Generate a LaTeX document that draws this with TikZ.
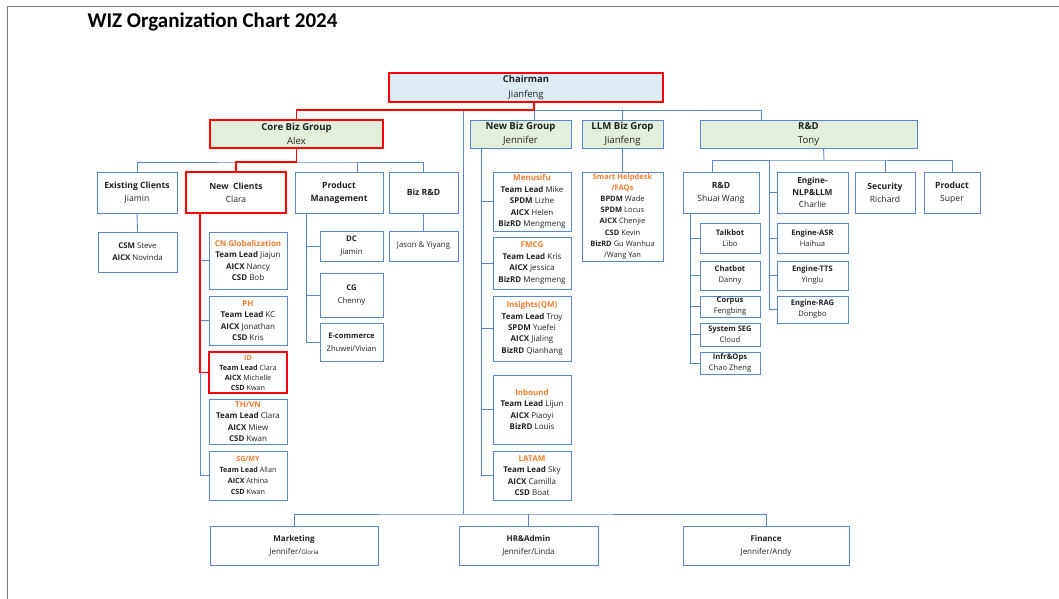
\documentclass[tikz,border=0pt]{standalone}
\usepackage{fontspec}
\setmainfont{Carlito}
\newfontfamily\boxfont{Open Sans}
\usepackage{tikz}
\definecolor{WizBlue}{HTML}{5B85D5}
\definecolor{WizRed}{HTML}{FF0000}
\definecolor{WizGreen}{HTML}{E2EFDA}
\definecolor{WizSky}{HTML}{DDEBF7}
\definecolor{WizOrange}{HTML}{ED7D31}
\definecolor{WizInk}{HTML}{222222}
\definecolor{WizFrame}{HTML}{777777}
\newcommand{\unithead}[1]{\textcolor{WizOrange}{\textbf{#1}}}

\begin{document}
\begin{tikzpicture}[
  x=1pt,y=-1pt,
  unit/.style={draw=WizBlue,line width=0.8pt,fill=white,align=center,inner sep=1pt,text=WizInk,font=\boxfont\fontsize{8.6}{13}\selectfont},
  group/.style={unit,fill=WizGreen,font=\boxfont\fontsize{9.6}{14}\selectfont},
  team/.style={unit,font=\boxfont\fontsize{8}{11.4}\selectfont},
  rdsub/.style={unit,font=\boxfont\fontsize{7.6}{11}\selectfont},
  hot/.style={draw=WizRed,line width=1.8pt},
  boxsz/.style 2 args={minimum width=#1pt,minimum height=#2pt},
  link/.style={draw=WizBlue,line width=0.9pt},
  hotlink/.style={draw=WizRed,line width=1.8pt}
]
\useasboundingbox (0,0) rectangle (1059,599);
\draw[WizFrame,line width=0.8pt] (7,599) -- (7,6) -- (1059,6);
\node[anchor=west,font=\fontsize{21}{23}\selectfont\bfseries] (title) at (84,22) {WIZ Organization Chart 2024};

% top levels
\node[unit,fill=WizSky,hot,boxsz={274}{29},font=\boxfont\fontsize{9.4}{15}\selectfont] (chair) at (526,87.5) {\textbf{Chairman}\\Jianfeng};
\node[group,hot,boxsz={173}{28}] (core) at (296.5,134) {\textbf{Core Biz Group}\\Alex};
\node[group,boxsz={101}{28}] (newbiz) at (520.5,134) {\textbf{New Biz Group}\\Jennifer};
\node[group,boxsz={81}{28}] (llm) at (622.5,134) {\textbf{LLM Biz Grop}\\Jianfeng};
\node[group,boxsz={217}{28}] (rd) at (808.5,134) {\textbf{R\&D}\\Tony};

% second row
\node[unit,boxsz={80}{41}] (exist) at (137,192.5) {\textbf{Existing Clients}\\Jiamin};
\node[unit,hot,boxsz={100}{41}] (newcl) at (236,192.5) {\textbf{New\ \ Clients}\\Clara};
\node[unit,boxsz={88}{41}] (prodm) at (339,192.5) {\textbf{Product}\\\textbf{Management}};
\node[unit,boxsz={69}{41}] (bizrd) at (423.5,192.5) {\textbf{Biz R\&D}};
\node[unit,boxsz={76}{41}] (rdsw) at (721,192.5) {\textbf{R\&D}\\Shuai Wang};
\node[unit,boxsz={71}{41},font=\boxfont\fontsize{8.3}{12}\selectfont] (nlp) at (812.5,192.5) {\textbf{Engine-}\\\textbf{NLP\&LLM}\\Charlie};
\node[unit,boxsz={60}{41}] (sec) at (885,192.5) {\textbf{Security}\\Richard};
\node[unit,boxsz={56}{41}] (prod) at (952,192.5) {\textbf{Product}\\Super};

% core biz teams
\node[unit,boxsz={79}{40},font=\boxfont\fontsize{7.8}{12}\selectfont] (csm) at (137.5,252) {\textbf{CSM} Steve\\\textbf{AICX} Novinda};
\node[team,boxsz={78}{57}] (cn) at (248,260.5) {\unithead{CN Globalization}\\\textbf{Team Lead} Jiajun\\\textbf{AICX} Nancy\\\textbf{CSD} Bob};
\node[team,boxsz={78}{49}] (ph) at (248,320.5) {\unithead{PH}\\\textbf{Team Lead} KC\\\textbf{AICX} Jonathan\\\textbf{CSD} Kris};
\node[team,hot,boxsz={78}{41},font=\boxfont\fontsize{7.2}{10}\selectfont] (id) at (248,372.5) {\unithead{ID}\\\textbf{Team Lead} Clara\\\textbf{AICX} Michelle\\\textbf{CSD} Kwan};
\node[team,boxsz={78}{45}] (thvn) at (248,421.5) {\unithead{TH/VN}\\\textbf{Team Lead} Clara\\\textbf{AICX} Miew\\\textbf{CSD} Kwan};
\node[team,boxsz={78}{49},font=\boxfont\fontsize{7.2}{11}\selectfont] (sgmy) at (248,475.5) {\unithead{SG/MY}\\\textbf{Team Lead} Allan\\\textbf{AICX} Athina\\\textbf{CSD} Kwan};
\node[unit,boxsz={63}{30},font=\boxfont\fontsize{7.8}{13}\selectfont] (dc) at (351.5,246) {\textbf{DC}\\Jiamin};
\node[unit,boxsz={63}{44},font=\boxfont\fontsize{7.8}{13}\selectfont] (cg) at (351.5,295) {\textbf{CG}\\Chenny};
\node[unit,boxsz={63}{38},font=\boxfont\fontsize{7.6}{13}\selectfont] (ecom) at (351.5,342) {\textbf{E-commerce}\\Zhuwei/Vivian};
\node[unit,boxsz={69}{30},font=\boxfont\fontsize{7.8}{13}\selectfont] (jy) at (423.5,246) {Jason \& Yiyang};

% new biz and llm teams
\node[team,boxsz={78}{59}] (menu) at (532,201.5) {\unithead{Menusifu}\\\textbf{Team Lead} Mike\\\textbf{SPDM} Lizhe\\\textbf{AICX} Helen\\\textbf{BizRD} Mengmeng};
\node[team,boxsz={78}{52}] (fmcg) at (532,263) {\unithead{FMCG}\\\textbf{Team Lead} Kris\\\textbf{AICX} Jessica\\\textbf{BizRD} Mengmeng};
\node[team,boxsz={78}{65}] (insi) at (532,328.5) {\unithead{Insights(QM)}\\\textbf{Team Lead} Troy\\\textbf{SPDM} Yuefei\\\textbf{AICX} Jialing\\\textbf{BizRD} Qianhang};
\node[team,boxsz={78}{69}] (inbd) at (532,409.5) {\unithead{Inbound}\\\textbf{Team Lead} Lijun\\\textbf{AICX} Piaoyi\\\textbf{BizRD} Louis};
\node[team,boxsz={78}{49}] (latam) at (532,475.5) {\unithead{LATAM}\\\textbf{Team Lead} Sky\\\textbf{AICX} Camilla\\\textbf{CSD} Boat};
\node[team,boxsz={81}{89},font=\boxfont\fontsize{7.5}{11.1}\selectfont] (smart) at (622.5,216.5) {\unithead{Smart Helpdesk}\\\unithead{/FAQs}\\\textbf{BPDM} Wade\\\textbf{SPDM} Locus\\\textbf{AICX} Chenjie\\\textbf{CSD} Kevin\\\textbf{BizRD} Gu Wanhua\\/Wang Yan};

% r&d teams
\node[rdsub,boxsz={60}{30}] (talk) at (730,238) {\textbf{Talkbot}\\Libo};
\node[rdsub,boxsz={60}{29}] (chat) at (730,275.5) {\textbf{Chatbot}\\Danny};
\node[rdsub,boxsz={60}{21}] (corp) at (730,306.5) {\textbf{Corpus}\\Fengbing};
\node[rdsub,boxsz={60}{23}] (sseg) at (730,334.5) {\textbf{System SEG}\\Cloud};
\node[rdsub,boxsz={60}{22}] (infr) at (730,363) {\textbf{Infr\&Ops}\\Chao Zheng};
\node[rdsub,boxsz={71}{30}] (asr) at (812.5,238) {\textbf{Engine-ASR}\\Haihua};
\node[rdsub,boxsz={71}{29}] (tts) at (812.5,275.5) {\textbf{Engine-TTS}\\Yinglu};
\node[rdsub,boxsz={71}{27}] (rag) at (812.5,309.5) {\textbf{Engine-RAG}\\Dongbo};

% support functions
\node[unit,boxsz={168}{39},font=\boxfont\fontsize{8}{13}\selectfont] (mkt) at (294,545.5) {\textbf{Marketing}\\Jennifer/{\fontsize{6.2}{13}\selectfont Gloria}};
\node[unit,boxsz={139}{39},font=\boxfont\fontsize{8}{13}\selectfont] (hr) at (528.5,545.5) {\textbf{HR\&Admin}\\Jennifer/Linda};
\node[unit,boxsz={166}{39},font=\boxfont\fontsize{8}{13}\selectfont] (fin) at (766,545.5) {\textbf{Finance}\\Jennifer/Andy};

% junctions
\coordinate (hub) at (534,110);
\coordinate (spine) at (463,110);
\coordinate (base) at (463,514);
\coordinate (cbus) at (296.5,162);
\coordinate (rbus) at (824,160);
\coordinate (eng) at (769,160);
\coordinate (ncl) at ([xshift=15pt]newcl.south west);
\coordinate (pm) at ([xshift=12pt]prodm.south west);
\coordinate (nb) at ([xshift=12pt]newbiz.south west);
\coordinate (rs) at ([xshift=8pt]rdsw.south west);

% blue links
\draw[link] (hub) -| ([xshift=62pt]rd.north west);
\draw[link] (hub) -- (hub |- newbiz.north);
\draw[link] (llm.north) |- (hub);
\draw[link] (spine) -- (base);
\draw[link] (mkt.north) |- (base) -| (fin.north);
\draw[link] (hr.north) -- (hr.north |- base);
\draw[link] (exist.north) |- (cbus) -| (bizrd.north);
\draw[link] ([xshift=18pt]prodm.north) -- ([xshift=18pt]prodm.north |- cbus);
\draw[link] (exist.south) -- (csm.north);
\draw[link] (sgmy.west) -| (ncl);
\foreach \n in {cn,ph} \draw[link] (\n.west) -- (\n.west -| ncl);
\draw[link] (ecom.west) -| (pm);
\foreach \n in {dc,cg} \draw[link] (\n.west) -- (\n.west -| pm);
\draw[link] (bizrd.south) -- (jy.north);
\draw[link] (latam.west) -| (nb);
\foreach \n in {menu,fmcg,insi,inbd} \draw[link] (\n.west) -- (\n.west -| nb);
\draw[link] (llm.south) -- (smart.north);
\draw[link] ([xshift=124pt]rd.south west) -- (rbus);
\draw[link] ([xshift=30pt]rdsw.north west) |- (rbus) -| (prod.north);
\draw[link] (sec.north) -- (sec.north |- rbus);
\draw[link] (rag.west) -| (eng);
\foreach \n in {nlp,asr,tts} \draw[link] (\n.west) -- (\n.west -| eng);
\draw[link] (infr.west) -| (rs);
\foreach \n in {talk,chat,corp,sseg} \draw[link] (\n.west) -- (\n.west -| rs);

% red reporting line
\draw[hotlink] (chair.south -| hub) -- (hub) -| (core.north);
\draw[hotlink] (core.south) |- (cbus) -| (newcl.north);
\draw[hotlink] (ncl) |- (id.west);
\end{tikzpicture}
\end{document}
